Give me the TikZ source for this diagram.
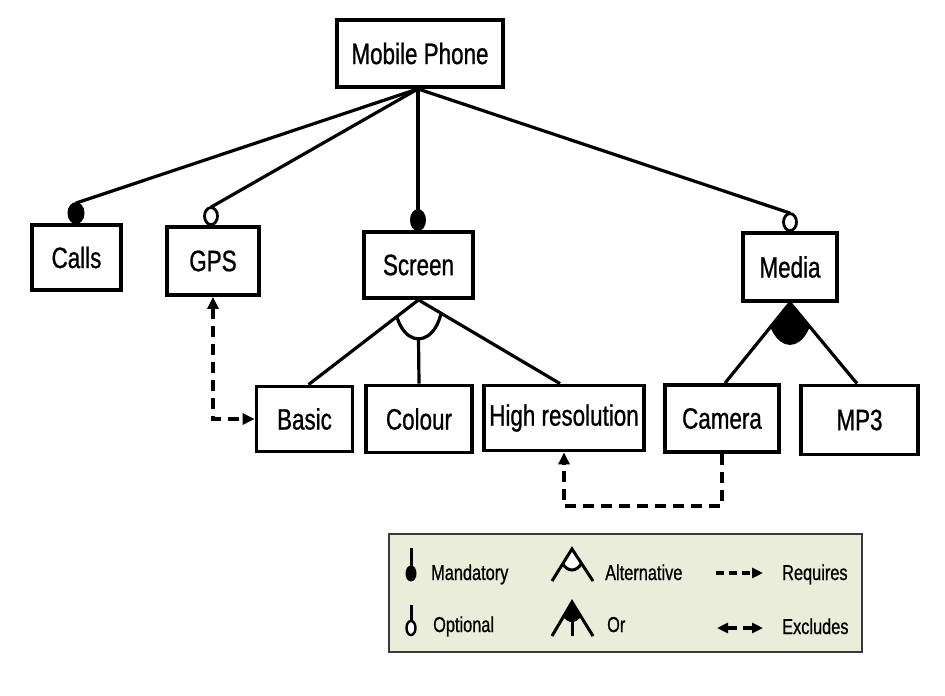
\documentclass[tikz,border=0pt]{standalone}
\usepackage{fontspec}
\setmainfont{Liberation Sans}[FakeStretch=0.76, FakeBold=0.8]
\usetikzlibrary{arrows.meta,calc}
\definecolor{legbg}{HTML}{E9EDDA}
\definecolor{legline}{HTML}{3A3A3A}
\begin{document}
\begin{tikzpicture}[x=1pt,y=-1pt,
  feat/.style={draw, line width=3.8pt, fill=white, inner sep=0pt, font=\fontsize{29.5}{34}\selectfont},
  conn/.style={line width=3.2pt},
  req/.style={line width=3.2pt, dash pattern=on 11pt off 7pt},
  legtext/.style={font=\fontsize{21.5}{25}\selectfont, anchor=base west, inner sep=0pt},
  legsym/.style={line width=3pt}]
\useasboundingbox (0,0) rectangle (945,696);

% features
\node[feat, minimum width=166pt, minimum height=67pt] (MP) at (420,53.5) {Mobile Phone};
\node[feat, minimum width=89pt, minimum height=65pt] (Calls) at (76.5,257.5) {Calls};
\node[feat, minimum width=92pt, minimum height=68pt] (GPS) at (213,261) {GPS};
\node[feat, minimum width=109pt, minimum height=66pt] (Scr) at (418.5,265) {Screen};
\node[feat, minimum width=94pt, minimum height=68pt] (Med) at (790,267) {Media};
\node[feat, minimum width=96pt, minimum height=65pt] (Basic) at (304.5,419) {Basic};
\node[feat, minimum width=106pt, minimum height=67pt] (Col) at (419,419) {Colour};
\node[feat, minimum width=160pt, minimum height=65pt] (HR) at (564,418) {High resolution};
\node[feat, minimum width=114pt, minimum height=67pt] (Cam) at (722,418.5) {Camera};
\node[feat, minimum width=117pt, minimum height=69pt] (MP3) at (859.5,420) {MP3};

% attach points
\coordinate (mpS) at ($(MP.south)+(-2,0)$);
\coordinate (cCalls) at ($(Calls.north)+(-0.5,-10)$);
\coordinate (cGPS) at ($(GPS.north)+(-2,-9)$);
\coordinate (cScr) at ($(Scr.north)+(-0.5,-10)$);
\coordinate (cMed) at ($(Med.north)+(0,-9)$);
\coordinate (bT) at ($(Basic.north)+(4,0)$);
\coordinate (hT) at ($(HR.north)+(-4,0)$);
\coordinate (camT) at ($(Cam.north)+(3,0)$);
\coordinate (mp3T) at ($(MP3.north)+(-2.5,0)$);

% connectors from root
\draw[conn] (mpS) -- ($(cCalls)+(0,-10)$);
\draw[conn] (mpS) -- ($(cGPS)+(0,-9)$);
\draw[conn] (mpS) -- ($(cScr)+(0,-10)$);
\draw[conn] (mpS) -- ($(cMed)+(0,-9)$);
\fill (cCalls) ellipse [x radius=8.5, y radius=11];
\draw[line width=2.8pt, fill=white] (cGPS) ellipse [x radius=6.5, y radius=8.5];
\fill (cScr) ellipse [x radius=8, y radius=11];
\draw[line width=2.8pt, fill=white] (cMed) ellipse [x radius=6.5, y radius=8.5];

% alternative group under Screen
\begin{scope}
  \clip (Scr.south) -- (bT) -- (hT) -- cycle;
  \draw[conn] (Scr.south) ellipse [x radius=24, y radius=39];
\end{scope}
\draw[conn] (Scr.south) -- (bT);
\draw[conn] (Scr.south) -- (hT);
\draw[conn] ($(Scr.south)+(0,39)$) -- (Col.north);

% or group under Media
\begin{scope}
  \clip (Med.south) -- (camT) -- (mp3T) -- cycle;
  \fill (Med.south) ellipse [x radius=24, y radius=42];
\end{scope}
\draw[conn] (Med.south) -- (camT);
\draw[conn] (Med.south) -- (mp3T);

% cross-tree constraints
\draw[req, {Triangle[length=12pt,width=11pt]}-{Triangle[length=12pt,width=11pt]}] (GPS.south) |- (Basic.west);
\draw[req, -{Triangle[length=12pt,width=11pt]}] (Cam.south) -- ++(0,52) -| (HR.south);

% legend
\node[draw=legline, fill=legbg, line width=2.4pt, minimum width=473pt, minimum height=118pt, inner sep=0pt] (Leg) at (625.5,593) {};

\draw[legsym] (411,548) -- (411,570);
\fill (411,573.5) ellipse [x radius=5.5, y radius=8];
\node[legtext] (tMand) at (431,580) {Mandatory};

\draw[legsym] (411,605) -- (411,622);
\draw[line width=2.4pt, fill=white] (411,628) ellipse [x radius=4.5, y radius=7];
\node[legtext] (tOpt) at (433,632) {Optional};

\begin{scope}
  \clip (572,549) -- (552,581) -- (593,581) -- cycle;
  \draw[legsym, fill=white] (572,549) ellipse [x radius=13, y radius=21];
\end{scope}
\draw[legsym] (552,581) -- (572,549) -- (593,581);
\node[legtext] (tAlt) at (605,580) {Alternative};

\begin{scope}
  \clip (572,602) -- (552,636) -- (593,636) -- cycle;
  \fill (572,602) ellipse [x radius=13, y radius=20];
\end{scope}
\draw[legsym] (552,636) -- (572,602) -- (593,636);
\draw[legsym] (572,618) -- (572,636);
\node[legtext] (tOr) at (607,632) {Or};

\draw[line width=3.2pt, dash pattern=on 8pt off 5pt, -{Triangle[length=11pt,width=10pt]}] (716,573) -- (763,573);
\node[legtext] (tReq) at (782,580) {Requires};

\draw[line width=3.2pt, {Triangle[length=11pt,width=10pt]}-] (717,628) -- (737,628);
\draw[line width=3.2pt, -{Triangle[length=11pt,width=10pt]}] (743,628) -- (763,628);
\node[legtext] (tExc) at (782,634) {Excludes};
\end{tikzpicture}
\end{document}
